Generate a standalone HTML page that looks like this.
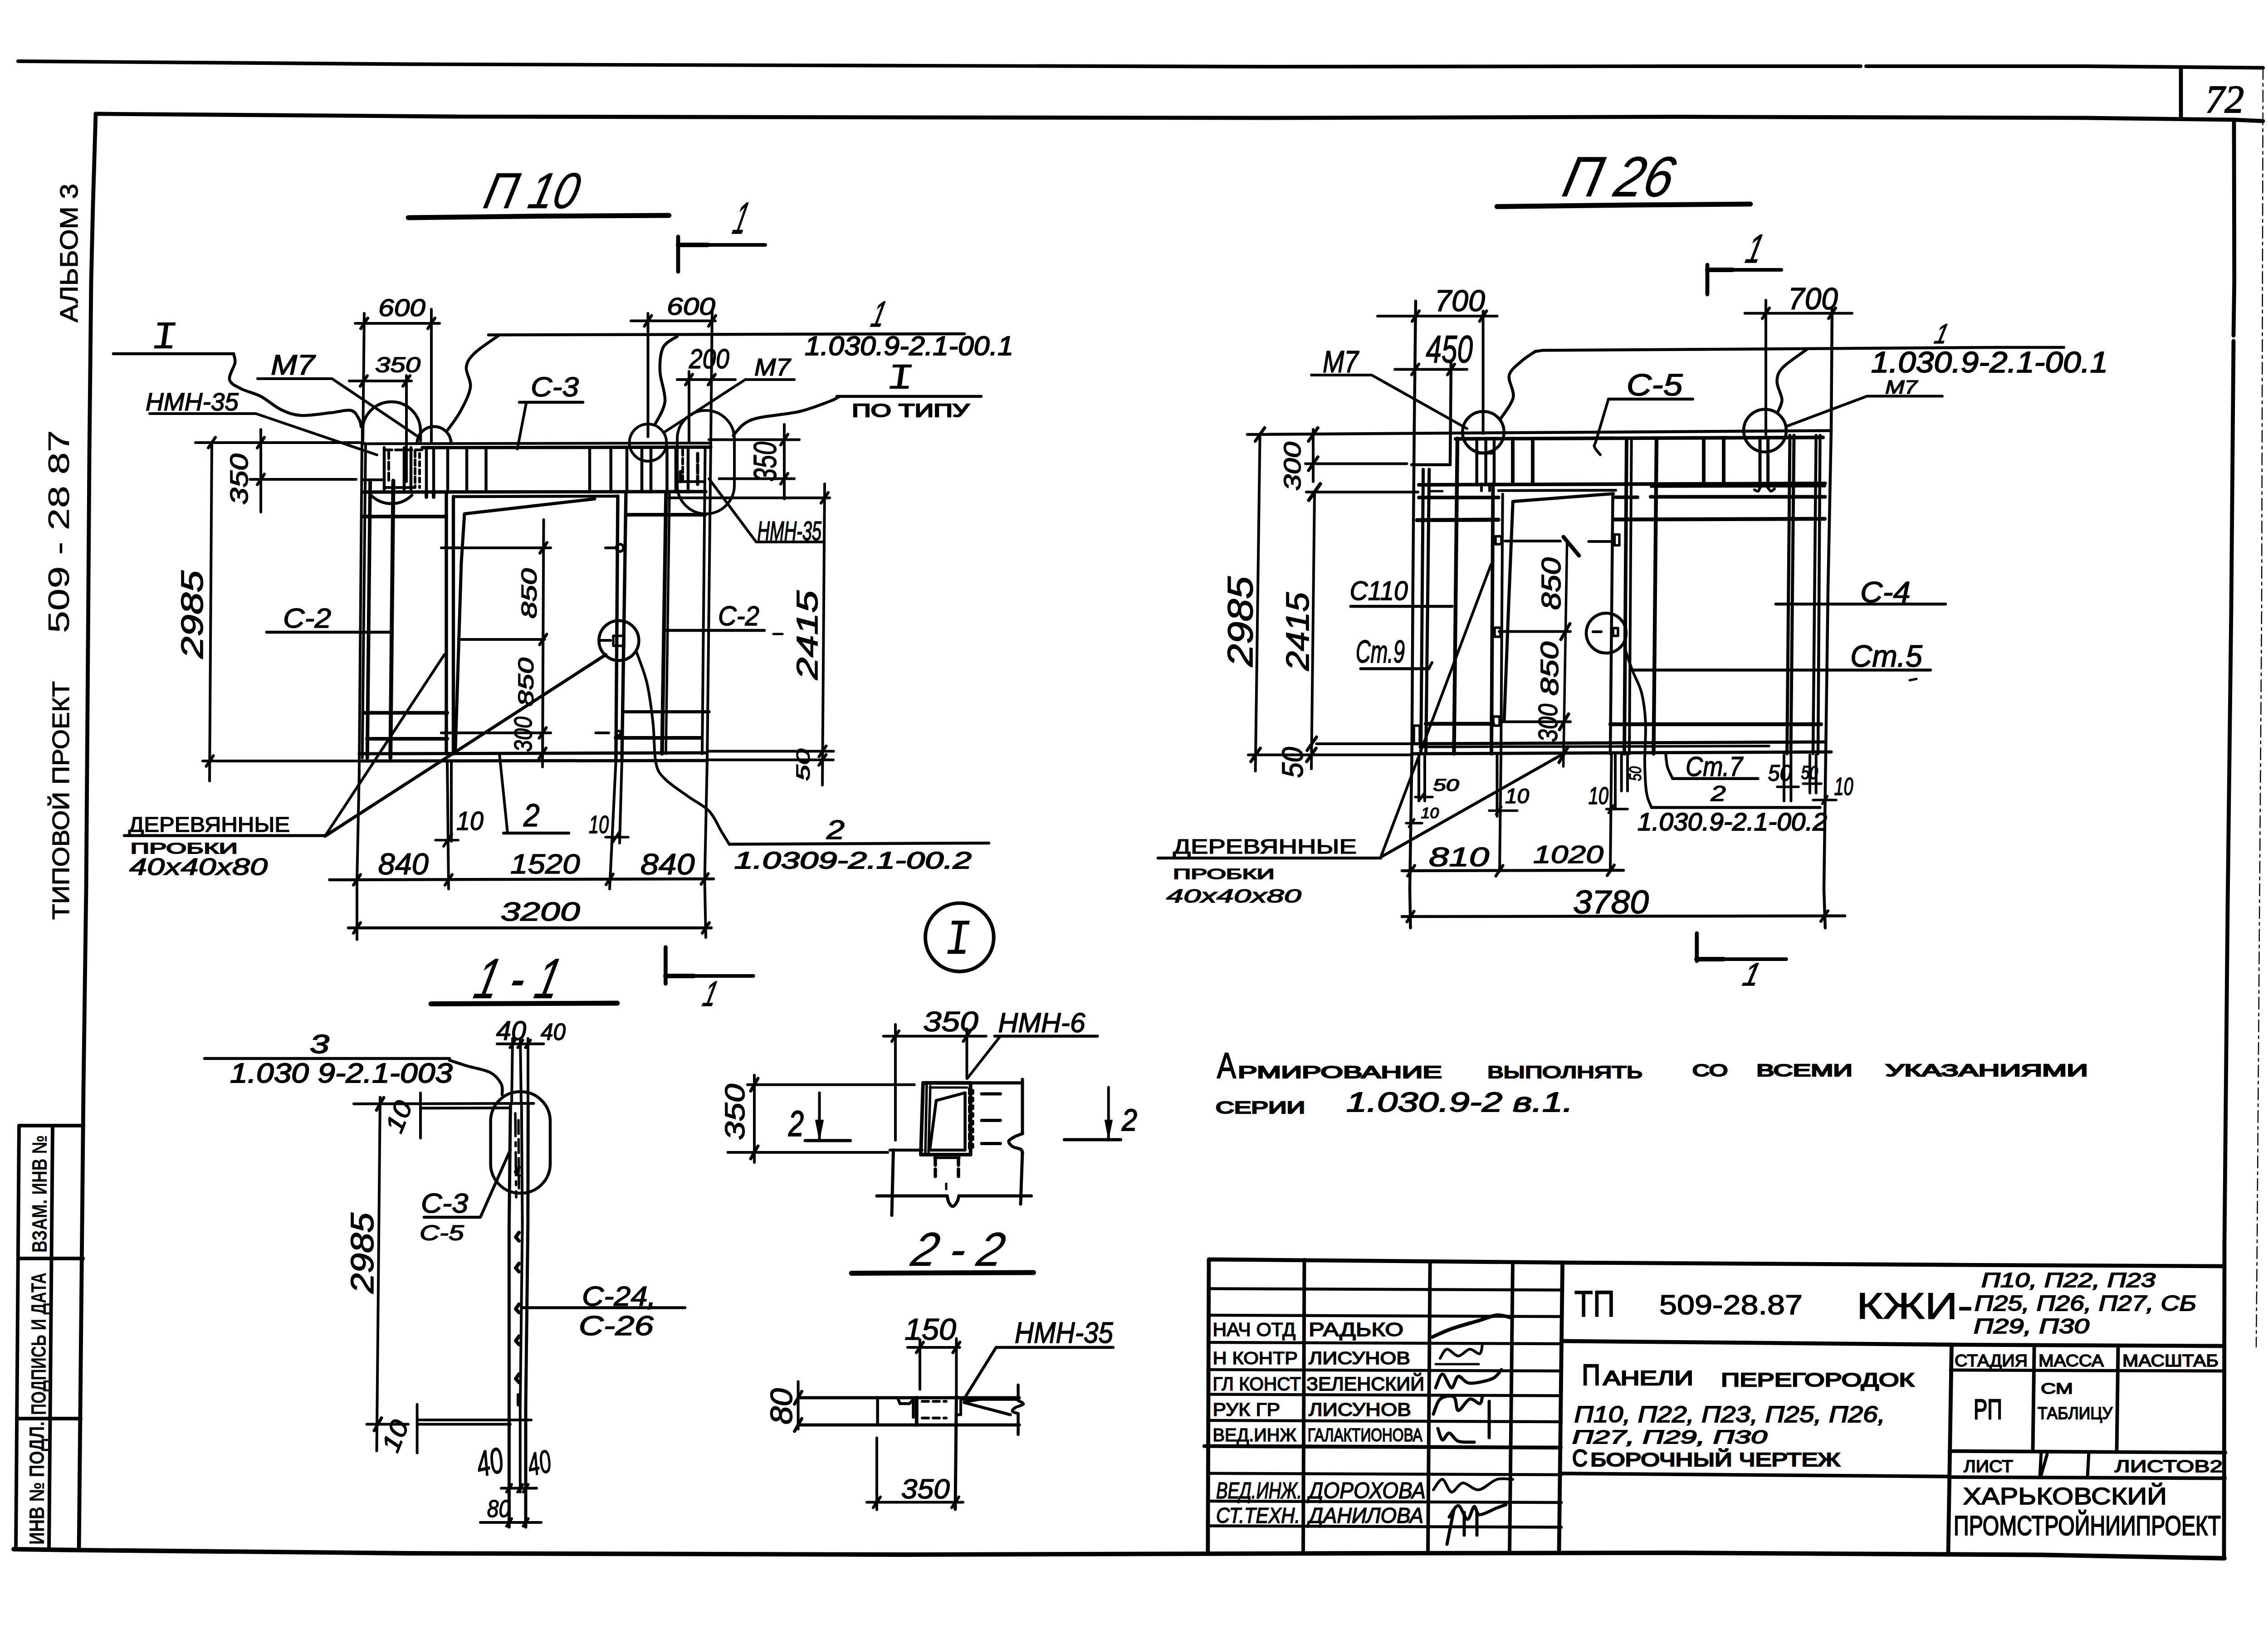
<!DOCTYPE html>
<html lang="ru"><head><meta charset="utf-8"><title>ТП 509-28.87 КЖИ</title>
<style>html,body{margin:0;padding:0;background:#fff}svg{display:block}text{font-family:"Liberation Sans",sans-serif;fill:#000}path,circle,ellipse,rect{fill:none;stroke:#000;stroke-linecap:round;stroke-linejoin:round}</style></head>
<body><svg width="5019" height="3603" viewBox="0 0 5019 3603">
<path d="M40 135L900 141.5L1900 144.5L2800 147L3700 146L4102 146" stroke-width="7.9"/>
<path d="M4114 146L4600 146L4989 149.5" stroke-width="7.9"/>
<path d="M211 251L1000 257L1900 258.7L2800 260L3700 257.5L4600 260L4925 264L4989 267" stroke-width="8.8"/>
<path d="M4808 149L4808 262" stroke-width="8.8"/>
<path d="M4925 264L4925.7 620L4924 740" stroke-width="8.8"/>
<path d="M4924 752L4919 1340L4911 2000L4904 2740L4903 3436" stroke-width="8.8"/>
<path d="M30 3416L174 3418L900 3425L2000 3428L3000 3425L3700 3424L4500 3428.5L4904 3436" stroke-width="9.8"/>
<path d="M211 251L205 450L201 620L197 1000L194.6 1340L190 1960L184 2400L174 3417" stroke-width="8.8"/>
<path d="M4989 149L4986 1340L4976 2740L4974 2970" stroke-width="2.5" stroke-dasharray="26 9 6 9"/>
<text transform="translate(4862 248)" font-size="86.6" textLength="85" lengthAdjust="spacingAndGlyphs" font-style="italic" stroke="#000" stroke-width="2.2" style="font-family:'Liberation Serif',serif">72</text>
<text transform="translate(171 711) rotate(-90)" font-size="55.9" textLength="306" lengthAdjust="spacingAndGlyphs" stroke="#000" stroke-width="1.2">АЛЬБОМ 3</text>
<text transform="translate(152 1396) rotate(-90)" font-size="65.6" textLength="448" lengthAdjust="spacingAndGlyphs" stroke="#000" stroke-width="0.4">509 - 28 87</text>
<text transform="translate(152 2028) rotate(-90)" font-size="51" textLength="526" lengthAdjust="spacingAndGlyphs" stroke="#000" stroke-width="1.3">ТИПОВОЙ ПРОЕКТ</text>
<path d="M184 2482L42 2482L35 3416" stroke-width="7.9"/>
<path d="M116 2482L108 3416" stroke-width="7.9"/>
<path d="M40 2775L183 2775" stroke-width="7.9"/>
<path d="M37 3128L178 3128" stroke-width="7.9"/>
<text transform="translate(103 2762) rotate(-90)" font-size="46.1" textLength="259" lengthAdjust="spacingAndGlyphs" font-weight="bold">ВЗАМ. ИНВ №</text>
<text transform="translate(101 3120) rotate(-90)" font-size="46.1" textLength="314" lengthAdjust="spacingAndGlyphs" font-weight="bold">ПОДПИСЬ И ДАТА</text>
<text transform="translate(97 3406) rotate(-90)" font-size="46.1" textLength="272" lengthAdjust="spacingAndGlyphs" font-weight="bold">ИНВ № ПОДЛ.</text>
<path d="M2662.8 3424L2665 2777L3444 2784L4300 2789L4904 2792" stroke-width="8.8"/>
<path d="M2875.5 2778L2873 3424" stroke-width="7.9"/>
<path d="M3152.7 2781L3148 3424" stroke-width="7.9"/>
<path d="M3335 2783L3328 3424" stroke-width="7.9"/>
<path d="M3444.6 2784L3437 3424" stroke-width="8.8"/>
<path d="M2665 2841.5L3442 2844.5" stroke-width="6.5"/>
<path d="M2665 2900L3442 2903" stroke-width="6.5"/>
<path d="M2665 2960L3442 2963" stroke-width="6.5"/>
<path d="M2665 3020L3442 3023" stroke-width="6.5"/>
<path d="M2665 3074.5L3442 3077.5" stroke-width="6.5"/>
<path d="M2665 3132L3442 3135" stroke-width="6.5"/>
<path d="M2665 3248.8L3442 3251.8" stroke-width="6.5"/>
<path d="M2665 3310L3442 3313" stroke-width="6.5"/>
<path d="M2665 3364.5L3442 3367.5" stroke-width="6.5"/>
<path d="M2655 3188.6L3441 3192" stroke-width="8.4"/>
<path d="M3444 2957L4300 2965L4904 2968" stroke-width="8.8"/>
<path d="M3440 3249L4298 3255.7" stroke-width="7.9"/>
<path d="M4302.5 2965L4295 3426" stroke-width="8.8"/>
<path d="M4300 3021L4904 3023" stroke-width="7"/>
<path d="M4484.7 2967L4481.5 3200" stroke-width="7.9"/>
<path d="M4669.6 2967L4666.5 3201" stroke-width="7.9"/>
<path d="M4298 3199.7L4906 3203" stroke-width="7.9"/>
<path d="M4296 3257L4905 3259.5" stroke-width="7.9"/>
<path d="M4500 3202L4497 3257" stroke-width="7"/>
<path d="M4605 3202L4602 3257" stroke-width="7"/>
<path d="M4513 3207L4500 3252" stroke-width="7"/>
<text transform="translate(2673.5 2946)" font-size="41.9" textLength="182.5" lengthAdjust="spacingAndGlyphs" stroke="#000" stroke-width="1.7">НАЧ ОТД</text>
<text transform="translate(2885 2946)" font-size="41.9" textLength="209" lengthAdjust="spacingAndGlyphs" stroke="#000" stroke-width="1.8">РАДЬКО</text>
<text transform="translate(2673.5 3008)" font-size="39.1" textLength="187.5" lengthAdjust="spacingAndGlyphs" stroke="#000" stroke-width="1.7">Н КОНТР</text>
<text transform="translate(2885 3008)" font-size="39.1" textLength="224" lengthAdjust="spacingAndGlyphs" stroke="#000" stroke-width="1.8">ЛИСУНОВ</text>
<text transform="translate(2673.5 3066)" font-size="41.9" textLength="194.5" lengthAdjust="spacingAndGlyphs" stroke="#000" stroke-width="1.7">ГЛ КОНСТ</text>
<text transform="translate(2880 3066)" font-size="41.9" textLength="260" lengthAdjust="spacingAndGlyphs" stroke="#000" stroke-width="1.8">ЗЕЛЕНСКИЙ</text>
<text transform="translate(2673.5 3122)" font-size="40.9" textLength="148.5" lengthAdjust="spacingAndGlyphs" stroke="#000" stroke-width="1.7">РУК ГР</text>
<text transform="translate(2885 3122)" font-size="40.9" textLength="226" lengthAdjust="spacingAndGlyphs" stroke="#000" stroke-width="1.8">ЛИСУНОВ</text>
<text transform="translate(2673.5 3178)" font-size="40.9" textLength="184.5" lengthAdjust="spacingAndGlyphs" stroke="#000" stroke-width="1.7">ВЕД.ИНЖ</text>
<text transform="translate(2882.7 3178)" font-size="40.9" textLength="253" lengthAdjust="spacingAndGlyphs" stroke="#000" stroke-width="1.8">ГАЛАКТИОНОВА</text>
<text transform="translate(2681 3304)" font-size="50.3" textLength="189" lengthAdjust="spacingAndGlyphs" font-style="italic" stroke="#000" stroke-width="1.6">ВЕД.ИНЖ.</text>
<text transform="translate(2885 3304)" font-size="50.3" textLength="258" lengthAdjust="spacingAndGlyphs" font-style="italic" stroke="#000" stroke-width="1.6">ДОРОХОВА</text>
<text transform="translate(2681 3358)" font-size="47.5" textLength="185" lengthAdjust="spacingAndGlyphs" font-style="italic" stroke="#000" stroke-width="1.6">СТ.ТЕХН.</text>
<text transform="translate(2885 3358)" font-size="47.5" textLength="253" lengthAdjust="spacingAndGlyphs" font-style="italic" stroke="#000" stroke-width="1.6">ДАНИЛОВА</text>
<path d="M3158 2948C3165 2945 3183 2936 3200 2930C3217 2924 3243.3 2917 3260 2912C3276.7 2907 3288.3 2901.2 3300 2900C3311.7 2898.8 3325 2904.2 3330 2905" stroke-width="7.9"/>
<path d="M3175 2995C3177.5 2991.7 3183.3 2975.8 3190 2975C3196.7 2974.2 3206.7 2990 3215 2990C3223.3 2990 3232.2 2975.8 3240 2975C3247.8 2974.2 3257.3 2986.7 3262 2985C3266.7 2983.3 3267 2968.3 3268 2965" stroke-width="6"/>
<path d="M3165 3008L3260 3008" stroke-width="5"/>
<path d="M3165 3060C3167.5 3055 3174.2 3030 3180 3030C3185.8 3030 3194.2 3059.2 3200 3060C3205.8 3060.8 3208.3 3036.7 3215 3035C3221.7 3033.3 3227.5 3049.2 3240 3050C3252.5 3050.8 3278.3 3045 3290 3040C3301.7 3035 3306.7 3023.3 3310 3020" stroke-width="7"/>
<path d="M3160 3118C3162.5 3112.5 3167.5 3091.3 3175 3085C3182.5 3078.7 3198.3 3075.8 3205 3080C3211.7 3084.2 3209.2 3109.2 3215 3110C3220.8 3110.8 3232.2 3087.5 3240 3085C3247.8 3082.5 3257.3 3095.8 3262 3095C3266.7 3094.2 3267 3082.5 3268 3080" stroke-width="7"/>
<path d="M3283 3090L3283 3170" stroke-width="7"/>
<path d="M3170 3150C3171.7 3154.2 3175.8 3173.3 3180 3175C3184.2 3176.7 3189.2 3159.5 3195 3160C3200.8 3160.5 3205.8 3174.7 3215 3178C3224.2 3181.3 3244.2 3179.7 3250 3180" stroke-width="7"/>
<path d="M3160 3285C3163.3 3281.2 3173.3 3261.2 3180 3262C3186.7 3262.8 3192.5 3288.7 3200 3290C3207.5 3291.3 3215 3270.8 3225 3270C3235 3269.2 3247.5 3286.3 3260 3285C3272.5 3283.7 3287.5 3265.8 3300 3262C3312.5 3258.2 3329.2 3262 3335 3262" stroke-width="6"/>
<path d="M3195 3345C3198.3 3340.8 3208.3 3319.2 3215 3320C3221.7 3320.8 3229.2 3349.7 3235 3350C3240.8 3350.3 3245.5 3323.7 3250 3322C3254.5 3320.3 3253.7 3339.5 3262 3340C3270.3 3340.5 3290.3 3328.7 3300 3325C3309.7 3321.3 3316.7 3319.2 3320 3318" stroke-width="7"/>
<path d="M3205 3330L3190 3405" stroke-width="7"/>
<path d="M3228 3335L3228 3385" stroke-width="7"/>
<path d="M3256 3335L3256 3385" stroke-width="7"/>
<text transform="translate(3470.5 2903)" font-size="81" textLength="90" lengthAdjust="spacingAndGlyphs" stroke="#000" stroke-width="1.6">ТП</text>
<text transform="translate(3658 2898)" font-size="61.5" textLength="316" lengthAdjust="spacingAndGlyphs" stroke="#000" stroke-width="1.6">509-28.87</text>
<text transform="translate(4093 2908)" font-size="81.7" textLength="256" lengthAdjust="spacingAndGlyphs" stroke="#000" stroke-width="1.6">КЖИ-</text>
<text transform="translate(4368 2838)" font-size="44.7" textLength="384" lengthAdjust="spacingAndGlyphs" font-style="italic" stroke="#000" stroke-width="2">П10, П22, П23</text>
<text transform="translate(4353 2890)" font-size="47.5" textLength="489" lengthAdjust="spacingAndGlyphs" font-style="italic" stroke="#000" stroke-width="2">П25, П26, П27, СБ</text>
<text transform="translate(4351 2940)" font-size="46.1" textLength="255" lengthAdjust="spacingAndGlyphs" font-style="italic" stroke="#000" stroke-width="2">П29, П30</text>
<text transform="translate(3487.6 3054)" font-size="64.2" textLength="40.4" lengthAdjust="spacingAndGlyphs" stroke="#000" stroke-width="2.7">П</text>
<text transform="translate(3534 3054)" font-size="44.7" textLength="199" lengthAdjust="spacingAndGlyphs" stroke="#000" stroke-width="2.7">АНЕЛИ</text>
<text transform="translate(3794 3057)" font-size="43.3" textLength="426" lengthAdjust="spacingAndGlyphs" stroke="#000" stroke-width="2.7">ПЕРЕГОРОДОК</text>
<text transform="translate(3470.5 3136)" font-size="50.3" textLength="685.5" lengthAdjust="spacingAndGlyphs" font-style="italic" stroke="#000" stroke-width="2">П10, П22, П23, П25, П26,</text>
<text transform="translate(3466 3183)" font-size="41.9" textLength="430" lengthAdjust="spacingAndGlyphs" font-style="italic" stroke="#000" stroke-width="2">П27, П29, П30</text>
<text transform="translate(3466 3233)" font-size="51.7" textLength="34" lengthAdjust="spacingAndGlyphs" stroke="#000" stroke-width="2.7">С</text>
<text transform="translate(3506 3233)" font-size="41.9" textLength="551" lengthAdjust="spacingAndGlyphs" stroke="#000" stroke-width="2.7">БОРОЧНЫЙ ЧЕРТЕЖ</text>
<text transform="translate(4309 3012.5)" font-size="37" textLength="161" lengthAdjust="spacingAndGlyphs" stroke="#000" stroke-width="1.8">СТАДИЯ</text>
<text transform="translate(4494 3012.5)" font-size="37" textLength="144" lengthAdjust="spacingAndGlyphs" stroke="#000" stroke-width="1.8">МАССА</text>
<text transform="translate(4679 3012.5)" font-size="37" textLength="212" lengthAdjust="spacingAndGlyphs" stroke="#000" stroke-width="1.8">МАСШТАБ</text>
<text transform="translate(4351 3129)" font-size="62.8" textLength="63" lengthAdjust="spacingAndGlyphs" stroke="#000" stroke-width="2.5">РП</text>
<text transform="translate(4499 3073)" font-size="33.5" textLength="71" lengthAdjust="spacingAndGlyphs" stroke="#000" stroke-width="1.8">СМ</text>
<text transform="translate(4492 3129)" font-size="37" textLength="165" lengthAdjust="spacingAndGlyphs" stroke="#000" stroke-width="1.8">ТАБЛИЦУ</text>
<text transform="translate(4329 3246)" font-size="37.7" textLength="109" lengthAdjust="spacingAndGlyphs" stroke="#000" stroke-width="1.8">ЛИСТ</text>
<text transform="translate(4662 3246)" font-size="37.7" textLength="238" lengthAdjust="spacingAndGlyphs" stroke="#000" stroke-width="1.8">ЛИСТОВ2</text>
<text transform="translate(4327.5 3317)" font-size="51.7" textLength="449.5" lengthAdjust="spacingAndGlyphs" stroke="#000" stroke-width="1.8">ХАРЬКОВСКИЙ</text>
<text transform="translate(4307 3385)" font-size="61.5" textLength="589" lengthAdjust="spacingAndGlyphs" stroke="#000" stroke-width="2.2">ПРОМСТРОЙНИИПРОЕКТ</text>
<text transform="translate(2683 2377)" font-size="79.6" textLength="42" lengthAdjust="spacingAndGlyphs" stroke="#000" stroke-width="2.2">А</text>
<text transform="translate(2729 2377)" font-size="37.7" textLength="450" lengthAdjust="spacingAndGlyphs" stroke="#000" stroke-width="2.7">РМИРОВАНИЕ</text>
<text transform="translate(3279 2377)" font-size="37.7" textLength="342" lengthAdjust="spacingAndGlyphs" stroke="#000" stroke-width="2.7">ВЫПОЛНЯТЬ</text>
<text transform="translate(3731 2373)" font-size="36.3" textLength="78" lengthAdjust="spacingAndGlyphs" stroke="#000" stroke-width="2.7">СО</text>
<text transform="translate(3872 2373)" font-size="36.3" textLength="212" lengthAdjust="spacingAndGlyphs" stroke="#000" stroke-width="2.7">ВСЕМИ</text>
<text transform="translate(4157 2373)" font-size="36.3" textLength="446" lengthAdjust="spacingAndGlyphs" stroke="#000" stroke-width="2.7">УКАЗАНИЯМИ</text>
<text transform="translate(2680 2455)" font-size="36.3" textLength="197" lengthAdjust="spacingAndGlyphs" stroke="#000" stroke-width="2.7">СЕРИИ</text>
<text transform="translate(2968 2451)" font-size="61.5" textLength="500" lengthAdjust="spacingAndGlyphs" font-style="italic" stroke="#000" stroke-width="2">1.030.9-2  в.1.</text>
<text transform="translate(1062 459) skewX(-13)" font-size="111.7" textLength="206" lengthAdjust="spacingAndGlyphs" font-style="italic" stroke="#000" stroke-width="0.6">П 10</text>
<path d="M900 480L1200 476.5L1475 475" stroke-width="10.8"/>
<path d="M1495 522L1495 599" stroke-width="8.8"/>
<path d="M1495 540L1687 540" stroke-width="7.9"/>
<path d="M1495 540L1560 540" stroke-width="9.8"/>
<text transform="translate(1612 515) skewX(-14)" font-size="99.2" textLength="28" lengthAdjust="spacingAndGlyphs" font-style="italic" stroke="#000" stroke-width="1.6">1</text>
<path d="M1467.4 2088.7L1467.4 2169" stroke-width="8.8"/>
<path d="M1467.4 2152L1660.6 2152" stroke-width="7.9"/>
<path d="M1467 2152L1530 2152" stroke-width="9.8"/>
<text transform="translate(1546 2217.6) skewX(-14)" font-size="78.2" textLength="28" lengthAdjust="spacingAndGlyphs" font-style="italic" stroke="#000" stroke-width="1.6">1</text>
<path d="M798 976L791.8 1700" stroke-width="6"/>
<path d="M1570 686L1567 976" stroke-width="6"/>
<path d="M1567 976L1559 1678" stroke-width="6"/>
<path d="M1559 1678L1553.5 1940" stroke-width="6"/>
<path d="M1553.5 1940L1556 2067" stroke-width="6"/>
<path d="M798 978.5L1567 977" stroke-width="6"/>
<path d="M931 987L1567 986" stroke-width="7.4"/>
<path d="M801 1085L1556 1084" stroke-width="7.4"/>
<path d="M1000 1095L1362 1094" stroke-width="6.5"/>
<path d="M847 987L847 1085" stroke-width="6.5"/>
<path d="M891 987L891 1085" stroke-width="6.5"/>
<path d="M906 987L906 1085" stroke-width="6.5"/>
<path d="M940 987L940 1085" stroke-width="6.5"/>
<path d="M956 987L956 1085" stroke-width="6.5"/>
<path d="M987 987L987 1085" stroke-width="6.5"/>
<path d="M1029 987L1029 1085" stroke-width="6.5"/>
<path d="M1071.5 987L1071.5 1085" stroke-width="6.5"/>
<path d="M1300 987L1300 1085" stroke-width="6.5"/>
<path d="M1346.7 987L1346.7 1085" stroke-width="6.5"/>
<path d="M1382 987L1382 1085" stroke-width="6.5"/>
<path d="M1415 987L1415 1085" stroke-width="6.5"/>
<path d="M1435 987L1435 1085" stroke-width="6.5"/>
<path d="M1470.5 987L1470.5 1085" stroke-width="6.5"/>
<path d="M1490 987L1490 1085" stroke-width="6.5"/>
<path d="M1517 987L1517 1085" stroke-width="6.5"/>
<path d="M857 995L857 1060" stroke-width="6" stroke-dasharray="16 8"/>
<path d="M915 995L915 1075" stroke-width="6" stroke-dasharray="12 7"/>
<path d="M925 1000L925 1075" stroke-width="6" stroke-dasharray="9 9"/>
<path d="M798 1058L847 1058" stroke-width="6"/>
<path d="M847 1075L915 1075" stroke-width="6"/>
<path d="M850 992L930 992" stroke-width="6" stroke-dasharray="14 8"/>
<path d="M940 1085L940 1096" stroke-width="7.9"/>
<path d="M956 1085L956 1096" stroke-width="7.9"/>
<path d="M806 978L798.7 1671" stroke-width="6"/>
<path d="M816.1 1060L809.7 1671" stroke-width="7.9"/>
<path d="M867.1 1060L860.7 1671" stroke-width="8.8"/>
<path d="M801 1139L984 1139" stroke-width="7.9"/>
<path d="M803 1571.7L986 1571.7" stroke-width="7.9"/>
<path d="M809 1629L986 1629" stroke-width="7.9"/>
<path d="M792 1662L1559 1660" stroke-width="7"/>
<path d="M792 1678L1559 1677" stroke-width="7"/>
<path d="M984 1085L984 1662" stroke-width="7.4"/>
<path d="M999.5 1095L999.5 1662" stroke-width="7.4"/>
<path d="M1362 1094L1357.8 1678" stroke-width="7.4"/>
<path d="M1380 1085L1371 1678" stroke-width="7.4"/>
<path d="M1311 1100L1024 1133L1017 1240L1004 1651" stroke-width="7"/>
<path d="M1198.5 1146L1196 1691" stroke-width="6"/>
<path d="M973 1208L1214 1208" stroke-width="6"/>
<path d="M1010.6 1410L1200.7 1410" stroke-width="6"/>
<path d="M973 1616L1214 1616" stroke-width="6"/>
<path d="M1190.2 1219.6L1205.8 1196.4" stroke-width="6.5"/>
<path d="M1189.7 1421.6L1205.3 1398.4" stroke-width="6.5"/>
<path d="M1188.7 1627.6L1204.3 1604.4" stroke-width="6.5"/>
<path d="M1188.2 1672.6L1203.8 1649.4" stroke-width="6.5"/>
<circle cx="1366.6" cy="1208" r="8" stroke-width="6"/>
<path d="M1335 1208L1358 1208" stroke-width="6"/>
<text transform="translate(1183 1364) rotate(-90)" font-size="48.9" textLength="111" lengthAdjust="spacingAndGlyphs" font-style="italic" stroke="#000" stroke-width="1.6">850</text>
<text transform="translate(1176 1558) rotate(-90)" font-size="48.9" textLength="108" lengthAdjust="spacingAndGlyphs" font-style="italic" stroke="#000" stroke-width="1.6">850</text>
<text transform="translate(1172 1658) rotate(-90)" font-size="55.9" textLength="78" lengthAdjust="spacingAndGlyphs" font-style="italic" stroke="#000" stroke-width="1.6">300</text>
<path d="M1468.5 1085L1459.5 1662" stroke-width="8.4"/>
<path d="M1476 1085L1468 1662" stroke-width="5.5"/>
<path d="M1554.6 986L1548 1662" stroke-width="6"/>
<path d="M1380 1135L1555 1135" stroke-width="7.9"/>
<path d="M1375.5 1569.5L1563 1569.5" stroke-width="7"/>
<path d="M1357 1627L1546 1627" stroke-width="7.9"/>
<path d="M1358 1612L1368 1612L1368 1621L1358 1621Z" stroke-width="5.5"/>
<path d="M1313.5 1616L1342 1616" stroke-width="6"/>
<path d="M1505 992L1505 1060" stroke-width="6" stroke-dasharray="12 7"/>
<path d="M1538 1000L1538 1075" stroke-width="7" stroke-dasharray="18 7"/>
<path d="M1490 1062L1554 1062" stroke-width="6"/>
<path d="M1500 1040L1500 1062" stroke-width="7"/>
<path d="M799 976L799 950A64 64 0 0 1 927 950L927 972" stroke-width="6.5"/>
<path d="M818 1092A64 64 0 0 0 908 1092" stroke-width="6.5"/>
<path d="M919.5 978A37.5 37.5 0 0 1 994.5 978" stroke-width="6.5"/>
<circle cx="1428.5" cy="976" r="41" stroke-width="6"/>
<rect x="1493" y="905" width="126" height="228" rx="63" ry="63" stroke-width="6"/>
<path d="M467 976L462 1722" stroke-width="6"/>
<path d="M431 976L800 976" stroke-width="6"/>
<path d="M447 1678L796 1678" stroke-width="6"/>
<path d="M459.2 987.6L474.8 964.4" stroke-width="6.5"/>
<path d="M454.7 1689.6L470.3 1666.4" stroke-width="6.5"/>
<text transform="translate(447 1452) rotate(-90)" font-size="68.4" textLength="194" lengthAdjust="spacingAndGlyphs" font-style="italic" stroke="#000" stroke-width="1.6">2985</text>
<path d="M575 947L575 1129" stroke-width="6"/>
<path d="M551 1057L785 1057" stroke-width="6"/>
<path d="M567.2 987.6L582.8 964.4" stroke-width="6.5"/>
<path d="M567.2 1068.6L582.8 1045.4" stroke-width="6.5"/>
<text transform="translate(546 1113) rotate(-90)" font-size="55.9" textLength="113" lengthAdjust="spacingAndGlyphs" font-style="italic" stroke="#000" stroke-width="1.6">350</text>
<path d="M783 713L969 713" stroke-width="6"/>
<path d="M803 691L800 976" stroke-width="6"/>
<path d="M951 682L951 974" stroke-width="6"/>
<path d="M795.2 724.6L810.8 701.4" stroke-width="6.5"/>
<path d="M943.2 724.6L958.8 701.4" stroke-width="6.5"/>
<text transform="translate(834 697)" font-size="54.5" textLength="104" lengthAdjust="spacingAndGlyphs" font-style="italic" stroke="#000" stroke-width="1.6">600</text>
<path d="M770 840L907 840" stroke-width="6"/>
<path d="M896 828L896 1062" stroke-width="6"/>
<path d="M794.2 851.6L809.8 828.4" stroke-width="6.5"/>
<path d="M888.2 851.6L903.8 828.4" stroke-width="6.5"/>
<text transform="translate(827 821)" font-size="48.9" textLength="100" lengthAdjust="spacingAndGlyphs" font-style="italic" stroke="#000" stroke-width="1.6">350</text>
<text transform="translate(330 768) skewX(-8)" font-size="86.4" textLength="59" lengthAdjust="spacingAndGlyphs" stroke="#000" stroke-width="0.3" style="font-family:'Liberation Mono',serif">I</text>
<path d="M250 780L515 780" stroke-width="6.5"/>
<path d="M515 780C515.5 783.3 519.5 790.5 518 800C516.5 809.5 503.8 827.5 506 837C508.2 846.5 519.5 850.8 531 857C542.5 863.2 560.3 866.3 575 874C589.7 881.7 604.3 896 619 903C633.7 910 644.5 914.8 663 916C681.5 917.2 711.5 911.8 730 910C748.5 908.2 763.7 902.5 774 905C784.3 907.5 788.3 919 792 925C795.7 931 795.3 938.3 796 941" stroke-width="6.5"/>
<text transform="translate(597 826)" font-size="62.8" textLength="97" lengthAdjust="spacingAndGlyphs" font-style="italic" stroke="#000" stroke-width="1.6">М7</text>
<path d="M568 835L732 835L922 963" stroke-width="6"/>
<text transform="translate(321 905)" font-size="55.9" textLength="205" lengthAdjust="spacingAndGlyphs" font-style="italic" stroke="#000" stroke-width="1.6">НМН-35</text>
<path d="M330 912L564 912L831 1003" stroke-width="6"/>
<path d="M1077 738.5L2126 736" stroke-width="6.5"/>
<path d="M1099 740C1090.2 746.5 1057.8 767.3 1046 779C1034.2 790.7 1029.5 797.5 1028 810C1026.5 822.5 1039.2 837.8 1037 854C1034.8 870.2 1023.8 890.7 1015 907C1006.2 923.3 989.2 944.5 984 952" stroke-width="6.5"/>
<text transform="translate(1170 874)" font-size="61.5" textLength="106" lengthAdjust="spacingAndGlyphs" font-style="italic" stroke="#000" stroke-width="1.6">С-3</text>
<path d="M1145 887L1285 887" stroke-width="6.5"/>
<path d="M1160.5 887L1140.5 990" stroke-width="6"/>
<path d="M1391 707.6L1577 707.6" stroke-width="6"/>
<path d="M1428.5 691L1428.5 963" stroke-width="6"/>
<path d="M1420.7 719.2L1436.3 696" stroke-width="6.5"/>
<path d="M1562.2 719.2L1577.8 696" stroke-width="6.5"/>
<text transform="translate(1470 694)" font-size="54.5" textLength="107" lengthAdjust="spacingAndGlyphs" font-style="italic" stroke="#000" stroke-width="1.6">600</text>
<path d="M1493 837L1621 837" stroke-width="6"/>
<path d="M1519 819L1519 974" stroke-width="6"/>
<path d="M1511.2 848.6L1526.8 825.4" stroke-width="6.5"/>
<path d="M1561.2 848.6L1576.8 825.4" stroke-width="6.5"/>
<text transform="translate(1519 812)" font-size="61.5" textLength="89" lengthAdjust="spacingAndGlyphs" font-style="italic" stroke="#000" stroke-width="1.6">200</text>
<text transform="translate(1663 828)" font-size="53.1" textLength="79.5" lengthAdjust="spacingAndGlyphs" font-style="italic" stroke="#000" stroke-width="1.6">М7</text>
<path d="M1751 837L1643 837L1466 952" stroke-width="6"/>
<path d="M1444 936C1447.7 927.5 1464.2 904.5 1466 885C1467.8 865.5 1455.7 838.8 1455 819C1454.3 799.2 1455.7 778.9 1462 766C1468.3 753.1 1487.8 745.7 1493 741.6" stroke-width="6.5"/>
<path d="M1616.5 960.5C1620.4 956.2 1630.4 941.6 1640 935C1649.6 928.4 1653.7 925.6 1674 921C1694.3 916.4 1736.2 913.5 1762 907.5C1787.8 901.5 1814.2 890.6 1829 885C1843.8 879.4 1847.3 875.8 1851 874" stroke-width="6.5"/>
<path d="M1845 874L2163 874" stroke-width="6.5"/>
<text transform="translate(1917 719.5) skewX(-14)" font-size="80.3" textLength="28" lengthAdjust="spacingAndGlyphs" font-style="italic" stroke="#000" stroke-width="1.6">1</text>
<text transform="translate(1774 783)" font-size="60.1" textLength="460" lengthAdjust="spacingAndGlyphs" font-style="italic" stroke="#000" stroke-width="2">1.030.9-2.1-00.1</text>
<text transform="translate(1951 856.6) skewX(-8)" font-size="80.5" textLength="62" lengthAdjust="spacingAndGlyphs" stroke="#000" stroke-width="0.3" style="font-family:'Liberation Mono',serif">I</text>
<text transform="translate(1878 918.5)" font-size="39.8" textLength="259" lengthAdjust="spacingAndGlyphs" stroke="#000" stroke-width="2.5">ПО ТИПУ</text>
<path d="M1729 936L1729 1100" stroke-width="6"/>
<path d="M1563 969.4L1762 969.4" stroke-width="6"/>
<path d="M1585.5 1055.6L1751 1055.6" stroke-width="6"/>
<path d="M1721.2 981L1736.8 957.8" stroke-width="6.5"/>
<path d="M1721.2 1067.2L1736.8 1044" stroke-width="6.5"/>
<text transform="translate(1711 1062) rotate(-90)" font-size="71.2" textLength="88" lengthAdjust="spacingAndGlyphs" font-style="italic" stroke="#000" stroke-width="1.6">350</text>
<path d="M1475 1097.7L1829 1097.7" stroke-width="6"/>
<path d="M1818 1067L1813 1731" stroke-width="6"/>
<path d="M1810.2 1109.3L1825.8 1086.1" stroke-width="6.5"/>
<path d="M1805.7 1668.2L1821.3 1645" stroke-width="6.5"/>
<path d="M1805.5 1687.2L1821.1 1664" stroke-width="6.5"/>
<text transform="translate(1802 1498.7) rotate(-90)" font-size="64.2" textLength="196.7" lengthAdjust="spacingAndGlyphs" font-style="italic" stroke="#000" stroke-width="1.6">2415</text>
<path d="M1563 1656.6L1837.6 1656.6" stroke-width="6"/>
<path d="M1563 1675.6L1837 1675.6" stroke-width="6"/>
<text transform="translate(1785 1722) rotate(-90)" font-size="43.3" textLength="71" lengthAdjust="spacingAndGlyphs" font-style="italic" stroke="#000" stroke-width="1.6">50</text>
<text transform="translate(1669.6 1190.5)" font-size="58.7" textLength="141.4" lengthAdjust="spacingAndGlyphs" font-style="italic" stroke="#000" stroke-width="1.6">НМН-35</text>
<path d="M1813 1195L1667 1195L1563 1055.6" stroke-width="6"/>
<text transform="translate(624 1383.7)" font-size="61.7" textLength="106" lengthAdjust="spacingAndGlyphs" font-style="italic" stroke="#000" stroke-width="1.6">С-2</text>
<path d="M588 1394L862.5 1394" stroke-width="6.5"/>
<text transform="translate(1583 1379)" font-size="61.5" textLength="91" lengthAdjust="spacingAndGlyphs" font-style="italic" stroke="#000" stroke-width="1.6">С-2</text>
<path d="M1468 1390L1685 1390" stroke-width="6.5"/>
<path d="M1705 1398L1725 1398" stroke-width="5"/>
<circle cx="1364.4" cy="1412.5" r="44" stroke-width="6.5"/>
<path d="M1352 1402L1376 1402L1376 1424L1352 1424Z" stroke-width="5.5"/>
<path d="M1322 1412L1346 1412" stroke-width="6"/>
<path d="M1335.6 1443.5L716.5 1843.7" stroke-width="7"/>
<path d="M716.5 1843.7L979.6 1443.5" stroke-width="6"/>
<path d="M1402 1434.6C1406 1446.3 1419.7 1478.4 1426 1505C1432.3 1531.6 1436.3 1564.5 1439.6 1594C1442.9 1623.5 1441.6 1661.4 1446 1682C1450.4 1702.6 1453.8 1705 1466 1717.6C1478.2 1730.2 1502.8 1745.7 1519 1757.5C1535.2 1769.3 1551.6 1775.9 1563.4 1788.4C1575.2 1800.9 1582.6 1820.4 1590 1832.6C1597.4 1844.8 1604.7 1856.6 1607.6 1861.4" stroke-width="6"/>
<path d="M1607.6 1861.4L2180 1859" stroke-width="6.5"/>
<text transform="translate(1822 1850)" font-size="58.7" textLength="40" lengthAdjust="spacingAndGlyphs" font-style="italic" stroke="#000" stroke-width="1.6">2</text>
<text transform="translate(1618.7 1914.5)" font-size="52.4" textLength="523.3" lengthAdjust="spacingAndGlyphs" font-style="italic" stroke="#000" stroke-width="2">1.0309-2.1-00.2</text>
<text transform="translate(283 1834)" font-size="46.1" textLength="356" lengthAdjust="spacingAndGlyphs" stroke="#000" stroke-width="1.6">ДЕРЕВЯННЫЕ</text>
<path d="M274 1842.4L716.5 1842.4" stroke-width="6.5"/>
<text transform="translate(287.5 1882)" font-size="33.5" textLength="236.5" lengthAdjust="spacingAndGlyphs" stroke="#000" stroke-width="2">ПРОБКИ</text>
<text transform="translate(285 1929)" font-size="51.7" textLength="305" lengthAdjust="spacingAndGlyphs" font-style="italic" stroke="#000" stroke-width="1.6">40х40х80</text>
<text transform="translate(1154 1821.6)" font-size="71.1" textLength="35.7" lengthAdjust="spacingAndGlyphs" font-style="italic" stroke="#000" stroke-width="1.6">2</text>
<path d="M1110 1837L1253.8 1837" stroke-width="6.5"/>
<path d="M1119 1837L1101 1662" stroke-width="6"/>
<text transform="translate(1006 1830)" font-size="58.1" textLength="59.8" lengthAdjust="spacingAndGlyphs" font-style="italic" stroke="#000" stroke-width="1.6">10</text>
<path d="M978.1 1865.9L995.9 1839.3" stroke-width="6"/>
<text transform="translate(1298 1837)" font-size="55.9" textLength="44" lengthAdjust="spacingAndGlyphs" font-style="italic" stroke="#000" stroke-width="1.6">10</text>
<path d="M1349.1 1859.3L1366.9 1832.7" stroke-width="6"/>
<path d="M960 1852.6L1010 1852.6" stroke-width="5.5"/>
<path d="M1335 1846L1385 1846" stroke-width="5.5"/>
<path d="M986 1678L989 1960" stroke-width="6"/>
<path d="M995 1678L995 1855" stroke-width="6"/>
<path d="M1357.8 1678L1344 1960" stroke-width="6"/>
<path d="M1371 1678L1366 1859" stroke-width="6"/>
<path d="M792 1700L787 1940" stroke-width="6"/>
<path d="M787 1940L787 2071.6" stroke-width="6"/>
<path d="M726.5 1940L1573 1938" stroke-width="6.5"/>
<path d="M779.2 1951.6L794.8 1928.4" stroke-width="6.5"/>
<path d="M981.2 1951.6L996.8 1928.4" stroke-width="6.5"/>
<path d="M1336.2 1950.6L1351.8 1927.4" stroke-width="6.5"/>
<path d="M1545.7 1949.6L1561.3 1926.4" stroke-width="6.5"/>
<text transform="translate(833.5 1928)" font-size="67" textLength="111.5" lengthAdjust="spacingAndGlyphs" font-style="italic" stroke="#000" stroke-width="1.6">840</text>
<text transform="translate(1125 1926)" font-size="61.5" textLength="153.7" lengthAdjust="spacingAndGlyphs" font-style="italic" stroke="#000" stroke-width="1.6">1520</text>
<text transform="translate(1412 1928)" font-size="64.2" textLength="119.6" lengthAdjust="spacingAndGlyphs" font-style="italic" stroke="#000" stroke-width="1.6">840</text>
<path d="M768 2046L1568 2046" stroke-width="6.5"/>
<path d="M779.2 2057.6L794.8 2034.4" stroke-width="6.5"/>
<path d="M1548.2 2057.6L1563.8 2034.4" stroke-width="6.5"/>
<text transform="translate(1103.5 2030)" font-size="57.3" textLength="175.2" lengthAdjust="spacingAndGlyphs" font-style="italic" stroke="#000" stroke-width="1.6">3200</text>
<text transform="translate(3440 433) skewX(-13)" font-size="125.7" textLength="240" lengthAdjust="spacingAndGlyphs" font-style="italic" stroke="#000" stroke-width="0.6">П 26</text>
<path d="M3300 455.5L3600 452L3859 450" stroke-width="10.8"/>
<path d="M3764 584L3764 649" stroke-width="8.8"/>
<path d="M3764 595L3927 595" stroke-width="7.9"/>
<path d="M3764 595L3820 595" stroke-width="9.8"/>
<text transform="translate(3845 579) skewX(-14)" font-size="89.4" textLength="33" lengthAdjust="spacingAndGlyphs" font-style="italic" stroke="#000" stroke-width="1.6">1</text>
<path d="M3740.8 2058L3740.8 2119" stroke-width="8.8"/>
<path d="M3740 2115L3937.8 2115" stroke-width="7.9"/>
<path d="M3740 2115L3800 2115" stroke-width="9.8"/>
<text transform="translate(3839 2172.7) skewX(-14)" font-size="71.4" textLength="34" lengthAdjust="spacingAndGlyphs" font-style="italic" stroke="#000" stroke-width="1.6">1</text>
<path d="M3037 697L3300.5 697" stroke-width="6"/>
<path d="M3121 664L3117.7 957L3114.8 1300L3112.6 1665L3108 1960L3109.5 2046" stroke-width="6.5"/>
<path d="M3269.6 686L3269.6 956" stroke-width="6"/>
<path d="M3113.2 708.6L3128.8 685.4" stroke-width="6.5"/>
<path d="M3261.8 708.6L3277.4 685.4" stroke-width="6.5"/>
<text transform="translate(3163 686)" font-size="67" textLength="111" lengthAdjust="spacingAndGlyphs" font-style="italic" stroke="#000" stroke-width="1.6">700</text>
<path d="M3075 814.6L3234 814.6" stroke-width="6"/>
<path d="M3199 797L3197 1024.7" stroke-width="6.5"/>
<path d="M3112 1024.7L3197 1024.7" stroke-width="6.5"/>
<path d="M3112.2 826.2L3127.8 803" stroke-width="6.5"/>
<path d="M3191.2 826.2L3206.8 803" stroke-width="6.5"/>
<text transform="translate(3143.5 799)" font-size="85.2" textLength="103.5" lengthAdjust="spacingAndGlyphs" font-style="italic" stroke="#000" stroke-width="1.6">450</text>
<text transform="translate(2916 821)" font-size="67.6" textLength="79" lengthAdjust="spacingAndGlyphs" font-style="italic" stroke="#000" stroke-width="1.6">М7</text>
<path d="M2891 827L3024 827L3234 945" stroke-width="6"/>
<circle cx="3270" cy="953" r="45.8" stroke-width="6.5"/>
<path d="M3307 925C3311.8 916.9 3332.7 892.7 3336 876.5C3339.3 860.3 3324.1 841.2 3327 828C3329.9 814.8 3344 805.8 3353.6 797C3363.2 788.2 3379.4 778.7 3384.6 775" stroke-width="6.5"/>
<path d="M3384.6 775L3400 772.6L4400 766L4549.7 766" stroke-width="6.5"/>
<path d="M2750 958L4035 949.5" stroke-width="6.5"/>
<path d="M3209 967.7L4019 964.5" stroke-width="7.9"/>
<path d="M3128 1069L4023.6 1066" stroke-width="7.9"/>
<path d="M3303.5 1081.8L3562 1081" stroke-width="6"/>
<path d="M3640 1073L4023 1072" stroke-width="5.5"/>
<path d="M3128 1097L3303.5 1097" stroke-width="7.9"/>
<path d="M3124 1146.8L3303.5 1146" stroke-width="8.8"/>
<path d="M3557 1096.4L3610 1096.4" stroke-width="7.9"/>
<path d="M3639 1095.5L4023.6 1095.5" stroke-width="7.9"/>
<path d="M3557 1145.5L4023 1144" stroke-width="8.4"/>
<path d="M3137.6 1035L3132.5 1662" stroke-width="7"/>
<path d="M3150.8 1035L3143.5 1662" stroke-width="7"/>
<path d="M3213 967L3205.4 1662" stroke-width="8.4"/>
<path d="M3255.7 967L3255.7 1067" stroke-width="6.5"/>
<path d="M3275.6 967L3275.6 1067" stroke-width="6.5"/>
<path d="M3294 967L3294 1067" stroke-width="6.5"/>
<path d="M3255 999.5L3294 999.5" stroke-width="5.5"/>
<path d="M3266 1067L3266 1082" stroke-width="6"/>
<path d="M3284 1067L3284 1082" stroke-width="6"/>
<path d="M3150 1083L3180 1083" stroke-width="5"/>
<path d="M3335 967L3335 1067" stroke-width="7.9"/>
<path d="M3379 967L3379 1067" stroke-width="7.9"/>
<path d="M3291.5 1067L3288 1662" stroke-width="7.9"/>
<path d="M3312.7 1089.8L3309 1662" stroke-width="6"/>
<path d="M3557 1088.4L3335.3 1105.7L3326 1332L3316 1590" stroke-width="7"/>
<path d="M3297 1182.6L3310 1182.6L3310 1200L3297 1200Z" stroke-width="5.5"/>
<path d="M3295 1384L3308 1384L3308 1404L3295 1404Z" stroke-width="5.5"/>
<path d="M3292 1580L3306 1580L3306 1600L3292 1600Z" stroke-width="5.5"/>
<path d="M3555.6 1088L3550 1662" stroke-width="6.5"/>
<path d="M3586 967L3581 1662" stroke-width="7.9"/>
<path d="M3596.7 967L3592 1662" stroke-width="6"/>
<path d="M3652 967L3645.5 1662" stroke-width="8.4"/>
<path d="M3756 967L3756 1067" stroke-width="7.9"/>
<path d="M3800 967L3800 1067" stroke-width="7.9"/>
<path d="M3880 967L3880 1075" stroke-width="7"/>
<path d="M3897.6 967L3897.6 1075" stroke-width="7"/>
<path d="M3880 1075C3879.3 1076.3 3878 1082.2 3876 1083C3874 1083.8 3869.3 1080.5 3868 1080" stroke-width="6"/>
<path d="M3897.6 1075C3898.7 1076.3 3901.6 1082.5 3904 1083C3906.4 1083.5 3910.7 1078.8 3912 1078" stroke-width="6"/>
<path d="M3946 960L3939.6 1662" stroke-width="7"/>
<path d="M3955 960L3948 1662" stroke-width="7"/>
<path d="M4003.7 960L3997 1662" stroke-width="6.5"/>
<path d="M4012.5 960L4008 1662" stroke-width="6.5"/>
<path d="M4039 682L4037 950L4030 1300L4025 1662L4021 1960L4023.8 2046" stroke-width="6.5"/>
<path d="M3559.5 1178.6L3570 1178.6L3570 1202.5L3559.5 1202.5Z" stroke-width="5.5"/>
<path d="M3318 1193L3440 1193" stroke-width="6"/>
<path d="M3446.8 1184L3481 1225" stroke-width="8.8"/>
<path d="M3502.5 1194L3555.6 1194" stroke-width="6"/>
<path d="M3454.7 1195L3446.5 1690" stroke-width="5.5"/>
<path d="M3305 1392.6L3462 1392.6" stroke-width="6"/>
<path d="M3313 1591.6L3462 1591.6" stroke-width="6"/>
<path d="M3441 1409.9L3461 1375.3" stroke-width="7"/>
<path d="M3438 1608.9L3458 1574.3" stroke-width="7"/>
<path d="M3437 1681.3L3457 1646.7" stroke-width="7"/>
<text transform="translate(3440 1345) rotate(-90)" font-size="58.7" textLength="116" lengthAdjust="spacingAndGlyphs" font-style="italic" stroke="#000" stroke-width="1.6">850</text>
<text transform="translate(3435.4 1534) rotate(-90)" font-size="55.6" textLength="119.3" lengthAdjust="spacingAndGlyphs" font-style="italic" stroke="#000" stroke-width="1.6">850</text>
<text transform="translate(3433 1636) rotate(-90)" font-size="58.7" textLength="84.2" lengthAdjust="spacingAndGlyphs" font-style="italic" stroke="#000" stroke-width="1.6">300</text>
<path d="M3143 1596L3292 1596" stroke-width="8.4"/>
<path d="M3550 1597L4014.8 1597" stroke-width="8.4"/>
<path d="M3112 1640L4020 1636" stroke-width="7"/>
<path d="M3130 1647L3900 1645" stroke-width="5.5"/>
<path d="M2752 1664.6L3112.6 1664.6" stroke-width="6"/>
<path d="M3112 1662L4037 1658" stroke-width="7"/>
<path d="M3117 1600L3130 1600L3130 1640L3117 1640Z" stroke-width="5.5"/>
<path d="M2895 947L2895 1062" stroke-width="6"/>
<path d="M2898 1089L2891 1695" stroke-width="6"/>
<path d="M2878 1022.5L3101.5 1022.5" stroke-width="6"/>
<path d="M2880 1085L3126 1085" stroke-width="6"/>
<path d="M2884.7 972.7L2905.3 943.3" stroke-width="7"/>
<path d="M2884.7 1037.2L2905.3 1007.8" stroke-width="7"/>
<path d="M2885.4 1103L2910.6 1067" stroke-width="7.9"/>
<text transform="translate(2867 1082) rotate(-90)" font-size="52.4" textLength="108" lengthAdjust="spacingAndGlyphs" font-style="italic" stroke="#000" stroke-width="1.6">300</text>
<path d="M2777.7 957L2767.6 1700" stroke-width="6"/>
<path d="M2767.4 972.7L2788 943.3" stroke-width="7"/>
<path d="M2757.7 1679.3L2778.3 1649.9" stroke-width="7"/>
<text transform="translate(2761 1470) rotate(-90)" font-size="77.2" textLength="199" lengthAdjust="spacingAndGlyphs" font-style="italic" stroke="#000" stroke-width="1.6">2985</text>
<text transform="translate(2884.8 1479) rotate(-90)" font-size="70.9" textLength="173" lengthAdjust="spacingAndGlyphs" font-style="italic" stroke="#000" stroke-width="1.6">2415</text>
<text transform="translate(2871.5 1715.5) rotate(-90)" font-size="64.9" textLength="68.5" lengthAdjust="spacingAndGlyphs" font-style="italic" stroke="#000" stroke-width="1.6">50</text>
<path d="M2902.5 1640L3112.6 1640" stroke-width="6"/>
<path d="M2881.7 1654.7L2902.3 1625.3" stroke-width="7"/>
<path d="M2880.7 1679.3L2901.3 1649.9" stroke-width="7"/>
<text transform="translate(2975.5 1323)" font-size="58.7" textLength="128.2" lengthAdjust="spacingAndGlyphs" font-style="italic" stroke="#000" stroke-width="1.6">С110</text>
<path d="M2977.7 1337L3201 1337" stroke-width="6.5"/>
<text transform="translate(2988.7 1461)" font-size="71.2" textLength="108.3" lengthAdjust="spacingAndGlyphs" font-style="italic" stroke="#000" stroke-width="1.6">Ст.9</text>
<path d="M2999.8 1474.4L3150 1474.4" stroke-width="6.5"/>
<path d="M3150 1474L3157 1461" stroke-width="6"/>
<text transform="translate(3585.8 872)" font-size="67.7" textLength="123.8" lengthAdjust="spacingAndGlyphs" font-style="italic" stroke="#000" stroke-width="1.6">С-5</text>
<path d="M3546 880L3731.7 880" stroke-width="6.5"/>
<path d="M3546 880C3541.6 894.9 3524.6 951.9 3519.4 969.4C3514.2 986.9 3513.6 979.5 3515 985C3516.4 990.5 3525.8 999.7 3528 1002.6" stroke-width="6"/>
<path d="M3846.7 690.8L4083 690.8" stroke-width="6"/>
<path d="M3893 662L3893 960" stroke-width="6"/>
<path d="M3885.2 702.4L3900.8 679.2" stroke-width="6.5"/>
<path d="M4031.2 702.4L4046.8 679.2" stroke-width="6.5"/>
<text transform="translate(3942 682)" font-size="68.4" textLength="110" lengthAdjust="spacingAndGlyphs" font-style="italic" stroke="#000" stroke-width="1.6">700</text>
<path d="M3984 770C3975.1 776.7 3941.8 798.2 3930.7 810C3919.6 821.8 3917.9 829.2 3917.5 841C3917.1 852.8 3928.1 869.9 3928.5 881C3928.9 892.1 3921.2 903.1 3919.7 907.5" stroke-width="6.5"/>
<circle cx="3891" cy="949.5" r="47" stroke-width="6.5"/>
<text transform="translate(4156 867.7)" font-size="43.3" textLength="71" lengthAdjust="spacingAndGlyphs" font-style="italic" stroke="#000" stroke-width="1.6">М7</text>
<path d="M4282 873.4L4116.5 873.4L3937 940.6" stroke-width="6"/>
<text transform="translate(4262 757) skewX(-14)" font-size="61.5" textLength="27" lengthAdjust="spacingAndGlyphs" font-style="italic" stroke="#000" stroke-width="1.6">1</text>
<text transform="translate(4125 821)" font-size="64.2" textLength="522" lengthAdjust="spacingAndGlyphs" font-style="italic" stroke="#000" stroke-width="2">1.030.9-2.1-00.1</text>
<text transform="translate(4101 1327.6)" font-size="65.1" textLength="110.6" lengthAdjust="spacingAndGlyphs" font-style="italic" stroke="#000" stroke-width="1.6">С-4</text>
<path d="M3915 1332L4289 1332" stroke-width="6.5"/>
<text transform="translate(4079 1470)" font-size="68.4" textLength="159" lengthAdjust="spacingAndGlyphs" font-style="italic" stroke="#000" stroke-width="1.6">Ст.5</text>
<path d="M3594.6 1477.5L4255.8 1477.5" stroke-width="6.5"/>
<path d="M4210 1500L4225 1497" stroke-width="5"/>
<circle cx="3541" cy="1396" r="44" stroke-width="6.5"/>
<path d="M3556 1385L3567 1385L3567 1402L3556 1402Z" stroke-width="5.5"/>
<path d="M3512 1393L3530 1393" stroke-width="6"/>
<path d="M3583.5 1434.6C3586.1 1442 3593.1 1463.5 3599 1479C3604.9 1494.5 3614.2 1508.3 3619 1527.5C3623.8 1546.7 3626.6 1568.2 3627.8 1594C3629 1619.8 3625.6 1656.2 3626 1682C3626.4 1707.8 3627.5 1732.2 3630 1748.6C3632.5 1765 3639.2 1775.2 3641 1780.5" stroke-width="6"/>
<path d="M3641 1780.5L4012.5 1780.5" stroke-width="6.5"/>
<text transform="translate(3771.5 1766)" font-size="48.9" textLength="33.2" lengthAdjust="spacingAndGlyphs" font-style="italic" stroke="#000" stroke-width="1.6">2</text>
<text transform="translate(3610 1830.5)" font-size="55.7" textLength="418" lengthAdjust="spacingAndGlyphs" font-style="italic" stroke="#000" stroke-width="2">1.030.9-2.1-00.2</text>
<text transform="translate(3716 1711)" font-size="61.5" textLength="126" lengthAdjust="spacingAndGlyphs" font-style="italic" stroke="#000" stroke-width="1.6">Ст.7</text>
<path d="M3687.5 1716.8L3875.5 1716.8" stroke-width="6.5"/>
<path d="M3687.5 1716.8C3685.6 1712.5 3678.6 1700.5 3676 1691C3673.4 1681.5 3672.7 1665.2 3672 1660" stroke-width="6"/>
<text transform="translate(2586 1882)" font-size="44.7" textLength="405" lengthAdjust="spacingAndGlyphs" stroke="#000" stroke-width="1.6">ДЕРЕВЯННЫЕ</text>
<path d="M2553 1892L3044 1892" stroke-width="6.5"/>
<text transform="translate(2586 1938)" font-size="32.1" textLength="223.6" lengthAdjust="spacingAndGlyphs" stroke="#000" stroke-width="2">ПРОБКИ</text>
<text transform="translate(2571 1990)" font-size="43.3" textLength="298" lengthAdjust="spacingAndGlyphs" font-style="italic" stroke="#000" stroke-width="1.6">40х40х80</text>
<path d="M3044 1890L3287 1245" stroke-width="6"/>
<path d="M3044 1890L3442 1664.6" stroke-width="6.5"/>
<path d="M3128 1665L3128 1766" stroke-width="6"/>
<path d="M3141 1665L3141 1766" stroke-width="6"/>
<path d="M3300.5 1665L3300.5 1800" stroke-width="6"/>
<path d="M3309 1665L3306 1921" stroke-width="6"/>
<text transform="translate(3159 1744)" font-size="36.7" textLength="57.5" lengthAdjust="spacingAndGlyphs" font-style="italic" stroke="#000" stroke-width="1.6">50</text>
<path d="M3120 1757.5L3158 1757.5" stroke-width="5.5"/>
<path d="M3128.4 1765.8L3139.6 1749.2" stroke-width="5.5"/>
<text transform="translate(3132.5 1804)" font-size="34.1" textLength="39.5" lengthAdjust="spacingAndGlyphs" font-style="italic" stroke="#000" stroke-width="1.6">10</text>
<path d="M3100 1815L3135 1815" stroke-width="5.5"/>
<path d="M3106.4 1823.3L3117.6 1806.7" stroke-width="5.5"/>
<text transform="translate(3318 1770.7)" font-size="46.2" textLength="53" lengthAdjust="spacingAndGlyphs" font-style="italic" stroke="#000" stroke-width="1.6">10</text>
<path d="M3283 1787.5L3344.8 1787.5" stroke-width="5.5"/>
<path d="M3298.4 1795.8L3309.6 1779.2" stroke-width="5.5"/>
<path d="M3552.6 1665L3550 1921" stroke-width="6"/>
<path d="M3561 1665L3561 1784" stroke-width="6"/>
<path d="M3574.7 1665L3574.7 1744" stroke-width="6"/>
<path d="M3588 1665L3588 1744" stroke-width="6"/>
<text transform="translate(3618 1722) rotate(-90)" font-size="36.3" textLength="32" lengthAdjust="spacingAndGlyphs" font-style="italic" stroke="#000" stroke-width="1.6">50</text>
<path d="M3933 1665L3933 1766" stroke-width="6"/>
<path d="M3948.4 1665L3948.4 1766" stroke-width="6"/>
<path d="M3990 1665L3990 1748.6" stroke-width="6"/>
<path d="M4003.7 1665L4003.7 1748.6" stroke-width="6"/>
<text transform="translate(3897.6 1722)" font-size="49.3" textLength="52.4" lengthAdjust="spacingAndGlyphs" font-style="italic" stroke="#000" stroke-width="1.6">50</text>
<text transform="translate(3970.5 1717.7)" font-size="43.3" textLength="37.5" lengthAdjust="spacingAndGlyphs" font-style="italic" stroke="#000" stroke-width="1.6">50</text>
<path d="M3918 1735L3965 1735" stroke-width="5.5"/>
<path d="M3975 1728L4015 1728" stroke-width="5.5"/>
<text transform="translate(4043.5 1753)" font-size="55.9" textLength="42" lengthAdjust="spacingAndGlyphs" font-style="italic" stroke="#000" stroke-width="1.6">10</text>
<path d="M3997 1764L4048 1764" stroke-width="5.5"/>
<path d="M4017.4 1772.3L4028.6 1755.7" stroke-width="5.5"/>
<text transform="translate(3501.7 1773)" font-size="53.1" textLength="44.3" lengthAdjust="spacingAndGlyphs" font-style="italic" stroke="#000" stroke-width="1.6">10</text>
<path d="M3541.5 1784L3588 1784" stroke-width="5.5"/>
<path d="M3546.4 1792.3L3557.6 1775.7" stroke-width="5.5"/>
<path d="M3091 1920L3579 1919" stroke-width="6.5"/>
<path d="M3103.2 1931.6L3118.8 1908.4" stroke-width="6.5"/>
<path d="M3297.7 1931.6L3313.3 1908.4" stroke-width="6.5"/>
<path d="M3543.2 1930.6L3558.8 1907.4" stroke-width="6.5"/>
<text transform="translate(3150 1910)" font-size="58.7" textLength="133" lengthAdjust="spacingAndGlyphs" font-style="italic" stroke="#000" stroke-width="1.6">810</text>
<text transform="translate(3380 1903)" font-size="55" textLength="155" lengthAdjust="spacingAndGlyphs" font-style="italic" stroke="#000" stroke-width="1.6">1020</text>
<path d="M3091 2021L4067 2019.5" stroke-width="6.5"/>
<path d="M3101.7 2032.6L3117.3 2009.4" stroke-width="6.5"/>
<path d="M4014.2 2031.6L4029.8 2008.4" stroke-width="6.5"/>
<text transform="translate(3468 2014)" font-size="71.6" textLength="167" lengthAdjust="spacingAndGlyphs" font-style="italic" stroke="#000" stroke-width="1.6">3780</text>
<text transform="translate(1040 2200.5) skewX(-13)" font-size="125.7" textLength="185" lengthAdjust="spacingAndGlyphs" font-style="italic" stroke="#000" stroke-width="0.6">1 - 1</text>
<path d="M950 2213.5L1361 2212" stroke-width="10.8"/>
<text transform="translate(1093.8 2293)" font-size="60.1" textLength="66.2" lengthAdjust="spacingAndGlyphs" font-style="italic" stroke="#000" stroke-width="1.6">40</text>
<text transform="translate(1192 2293)" font-size="51.7" textLength="55" lengthAdjust="spacingAndGlyphs" font-style="italic" stroke="#000" stroke-width="1.6">40</text>
<path d="M1096 2301.7L1198.4 2301.7" stroke-width="6"/>
<path d="M1130 2290L1128 2434" stroke-width="6"/>
<path d="M1147 2290L1149 2434" stroke-width="6"/>
<path d="M1164 2290L1164 2434" stroke-width="6"/>
<path d="M1124.4 2310L1135.6 2293.4" stroke-width="6"/>
<path d="M1141.4 2310L1152.6 2293.4" stroke-width="6"/>
<path d="M1158.4 2310L1169.6 2293.4" stroke-width="6"/>
<text transform="translate(683 2322)" font-size="57.3" textLength="43" lengthAdjust="spacingAndGlyphs" font-style="italic" stroke="#000" stroke-width="2">3</text>
<path d="M451 2334L991 2334" stroke-width="6.5"/>
<text transform="translate(507 2387)" font-size="60.8" textLength="491" lengthAdjust="spacingAndGlyphs" font-style="italic" stroke="#000" stroke-width="2">1.030 9-2.1-003</text>
<path d="M991 2338C997.8 2340.2 1017 2346.5 1032 2351C1047 2355.5 1068.8 2358.5 1081 2365C1093.2 2371.5 1100.7 2381.8 1105 2390C1109.3 2398.2 1106.7 2410 1107 2414" stroke-width="6.5"/>
<path d="M780 2434L1176.5 2433" stroke-width="6"/>
<path d="M930 2443.5L1125 2443" stroke-width="6"/>
<path d="M838 2419.5L830.5 3199" stroke-width="6"/>
<path d="M830 2447.9L846 2420.1" stroke-width="7"/>
<path d="M825 3154.4L841 3126.6" stroke-width="7"/>
<text transform="translate(823 2852) rotate(-90)" font-size="71.2" textLength="178" lengthAdjust="spacingAndGlyphs" font-style="italic" stroke="#000" stroke-width="1.6">2985</text>
<path d="M927 2410L927 2509.5" stroke-width="6"/>
<text transform="translate(884 2502) rotate(-68)" font-size="55.9" textLength="70" lengthAdjust="spacingAndGlyphs" font-style="italic" stroke="#000" stroke-width="1.6">10</text>
<rect x="1081.6" y="2407.3" width="131.4" height="223.7" rx="65" ry="65" stroke-width="6.5"/>
<path d="M1125.4 2434L1122.4 2700L1122.4 3367" stroke-width="7"/>
<path d="M1149.7 2434L1151.6 2700L1146.8 3100L1146.8 3290" stroke-width="6"/>
<path d="M1164.3 2434L1163.8 2700L1159 3100L1159 3367" stroke-width="7"/>
<path d="M1136 2455L1138 2640" stroke-width="5.5" stroke-dasharray="50 14 8 14"/>
<path d="M1143 2470L1144 2620" stroke-width="5.5" stroke-dasharray="30 12"/>
<path d="M1144 2574L1137 2584L1144 2592" stroke-width="7.9"/>
<path d="M1144 2718L1137 2728L1144 2736" stroke-width="7.9"/>
<path d="M1144 2786L1137 2796L1144 2804" stroke-width="7.9"/>
<path d="M1144 2876L1137 2886L1144 2894" stroke-width="7.9"/>
<path d="M1144 2946.5L1137 2956.5L1144 2964.5" stroke-width="7.9"/>
<path d="M1144 3030L1137 3040L1144 3048" stroke-width="7.9"/>
<path d="M1142 3075L1142 3098" stroke-width="6"/>
<text transform="translate(928 2674)" font-size="60.8" textLength="104.4" lengthAdjust="spacingAndGlyphs" font-style="italic" stroke="#000" stroke-width="1.6">С-3</text>
<text transform="translate(925 2735)" font-size="47.5" textLength="97.7" lengthAdjust="spacingAndGlyphs" font-style="italic" stroke="#000" stroke-width="1.6">С-5</text>
<path d="M935 2684L1059 2684L1125 2535.7" stroke-width="6.5"/>
<text transform="translate(1283 2878.7)" font-size="61" textLength="163" lengthAdjust="spacingAndGlyphs" font-style="italic" stroke="#000" stroke-width="1.6">С-24,</text>
<text transform="translate(1275.7 2944)" font-size="60.8" textLength="165.3" lengthAdjust="spacingAndGlyphs" font-style="italic" stroke="#000" stroke-width="1.6">С-26</text>
<path d="M1154 2883.5L1510 2883.5" stroke-width="6.5"/>
<path d="M920.5 3131L1171 3131" stroke-width="6"/>
<path d="M920.5 3140.5L1125 3140.5" stroke-width="6"/>
<path d="M808.6 3140.5L900 3140.5" stroke-width="6"/>
<path d="M919.6 3096.8L919.6 3203.8" stroke-width="6"/>
<text transform="translate(876 3206) rotate(-68)" font-size="55.9" textLength="70" lengthAdjust="spacingAndGlyphs" font-style="italic" stroke="#000" stroke-width="1.6">10</text>
<text transform="translate(1056.8 3257) rotate(-12)" font-size="79.6" textLength="58.2" lengthAdjust="spacingAndGlyphs" font-style="italic" stroke="#000" stroke-width="1.6">40</text>
<text transform="translate(1168.7 3255) rotate(-12)" font-size="71.2" textLength="51" lengthAdjust="spacingAndGlyphs" font-style="italic" stroke="#000" stroke-width="1.6">40</text>
<path d="M1105 3281.6L1183 3281.6" stroke-width="6"/>
<path d="M1116.8 3289.9L1128 3273.3" stroke-width="6"/>
<path d="M1141.2 3289.9L1152.4 3273.3" stroke-width="6"/>
<path d="M1153.4 3289.9L1164.6 3273.3" stroke-width="6"/>
<text transform="translate(1073.8 3345)" font-size="54.5" textLength="51.2" lengthAdjust="spacingAndGlyphs" font-style="italic" stroke="#000" stroke-width="1.6">80</text>
<path d="M1059 3357L1193 3357" stroke-width="6"/>
<path d="M1116.8 3365.3L1128 3348.7" stroke-width="6"/>
<path d="M1153.4 3365.3L1164.6 3348.7" stroke-width="6"/>
<circle cx="2115.4" cy="2066.8" r="75.4" stroke-width="7.9"/>
<text transform="translate(2079 2103) skewX(-8)" font-size="110.6" textLength="58" lengthAdjust="spacingAndGlyphs" stroke="#000" stroke-width="0.3" style="font-family:'Liberation Mono',serif">I</text>
<text transform="translate(2035 2273.5)" font-size="63.5" textLength="121.8" lengthAdjust="spacingAndGlyphs" font-style="italic" stroke="#000" stroke-width="1.6">350</text>
<text transform="translate(2200.6 2276)" font-size="61.5" textLength="192.1" lengthAdjust="spacingAndGlyphs" font-style="italic" stroke="#000" stroke-width="1.6">НМН-6</text>
<path d="M1947.6 2284.7L2173.8 2284.7" stroke-width="6"/>
<path d="M2193 2284.7L2419.5 2284.7" stroke-width="6.5"/>
<path d="M2205.4 2284.7L2132.4 2378" stroke-width="6"/>
<path d="M1974 2259L1974 2514" stroke-width="6"/>
<path d="M2131.5 2268.7L2131.5 2378" stroke-width="6"/>
<path d="M1966.2 2296.3L1981.8 2273.1" stroke-width="6.5"/>
<path d="M2123.7 2296.3L2139.3 2273.1" stroke-width="6.5"/>
<text transform="translate(1641 2514) rotate(-90)" font-size="61.5" textLength="124" lengthAdjust="spacingAndGlyphs" font-style="italic" stroke="#000" stroke-width="1.6">350</text>
<path d="M1663 2370.8L1663 2563" stroke-width="6"/>
<path d="M1648 2391.7L2015.7 2391.7" stroke-width="6"/>
<path d="M1604.6 2541L1957 2541" stroke-width="6"/>
<path d="M1962 2536L2032.7 2536" stroke-width="6.5"/>
<path d="M1655 2405.6L1671 2377.8" stroke-width="7"/>
<path d="M1655 2554.9L1671 2527.1" stroke-width="7"/>
<text transform="translate(1738 2504.6)" font-size="80.4" textLength="34" lengthAdjust="spacingAndGlyphs" font-style="italic" stroke="#000" stroke-width="2">2</text>
<path d="M1806.5 2409.7L1806.5 2514" stroke-width="6"/>
<path d="M1775 2515L1874.6 2515" stroke-width="7"/>
<path d="M1798 2470L1815 2470L1806.5 2512Z" style="fill:#000" stroke-width="2"/>
<path d="M2443.8 2397.6L2443.8 2514" stroke-width="6"/>
<path d="M2346.5 2513L2470.6 2513" stroke-width="7"/>
<path d="M2436 2470L2452 2470L2443.8 2510Z" style="fill:#000" stroke-width="2"/>
<text transform="translate(2473 2492.5)" font-size="69.1" textLength="34" lengthAdjust="spacingAndGlyphs" font-style="italic" stroke="#000" stroke-width="2">2</text>
<path d="M2035 2387.8L2254 2387.8" stroke-width="7"/>
<path d="M2254 2380L2254 2499.7" stroke-width="7"/>
<path d="M2254 2499.7C2251.3 2500.8 2243 2503.3 2238 2506C2233 2508.7 2225 2512.3 2224 2516C2223 2519.7 2227.7 2525 2232 2528C2236.3 2531 2246.3 2531.8 2250 2534C2253.7 2536.2 2253.3 2539.8 2254 2541" stroke-width="7"/>
<path d="M2254 2541L2250 2655" stroke-width="7"/>
<path d="M2035 2387.8L2139.7 2387.8L2139.7 2546L2030 2546L2035 2387.8" stroke-width="7.9"/>
<path d="M2043 2392L2040 2542" stroke-width="5.5"/>
<path d="M2051 2395L2047 2540" stroke-width="5.5"/>
<path d="M2064 2426.7L2127.6 2409.7L2127.6 2536L2049.7 2536L2064 2426.7" stroke-width="6.5"/>
<path d="M2050 2398L2132 2398" stroke-width="5"/>
<path d="M2137 2400L2137 2540" stroke-width="6" stroke-dasharray="12 8"/>
<path d="M2145 2404L2145 2540" stroke-width="5.5" stroke-dasharray="7 10"/>
<path d="M2164 2412L2205.4 2412" stroke-width="7"/>
<path d="M2164 2470.5L2205.4 2470.5" stroke-width="7"/>
<path d="M2164 2521.6L2205.4 2521.6" stroke-width="7"/>
<path d="M2062 2553L2062 2602" stroke-width="7.4" stroke-dasharray="16 9"/>
<path d="M2113 2553L2113 2602" stroke-width="7.4" stroke-dasharray="16 9"/>
<path d="M2060 2553L2115 2553" stroke-width="5.5"/>
<path d="M2086 2610L2086 2622" stroke-width="5"/>
<path d="M1969.5 2536L1966 2679.7" stroke-width="7"/>
<path d="M1933 2637L2088 2637" stroke-width="7"/>
<path d="M2088 2637C2088.7 2639.5 2089.9 2648.2 2092 2652C2094.1 2655.8 2097.8 2660.3 2100.8 2660C2103.8 2659.7 2107.8 2653.8 2110 2650C2112.2 2646.2 2113.3 2639.2 2114 2637" stroke-width="7"/>
<path d="M2114 2637L2273.5 2637" stroke-width="7"/>
<text transform="translate(2005 2791) skewX(-13)" font-size="105.2" textLength="200" lengthAdjust="spacingAndGlyphs" font-style="italic" stroke="#000" stroke-width="0.6">2 - 2</text>
<path d="M1877 2807.5L2278.7 2806" stroke-width="10.8"/>
<text transform="translate(1994 2954)" font-size="67" textLength="114" lengthAdjust="spacingAndGlyphs" font-style="italic" stroke="#000" stroke-width="1.6">150</text>
<path d="M2001 2971L2115.7 2971" stroke-width="6"/>
<path d="M2028 2954L2028 3063.5" stroke-width="6"/>
<path d="M2108.4 2951.6L2108.4 3078" stroke-width="6"/>
<path d="M2020.2 2982.6L2035.8 2959.4" stroke-width="6.5"/>
<path d="M2100.6 2982.6L2116.2 2959.4" stroke-width="6.5"/>
<text transform="translate(2237 2961)" font-size="64.2" textLength="216.8" lengthAdjust="spacingAndGlyphs" font-style="italic" stroke="#000" stroke-width="1.6">НМН-35</text>
<path d="M2453.8 2971L2196 2971L2128 3080.5" stroke-width="6.5"/>
<path d="M1763 3082L2247 3082" stroke-width="7"/>
<path d="M1763 3142L2247 3142" stroke-width="7"/>
<path d="M1934.7 3082L1934.7 3142" stroke-width="6.5"/>
<path d="M2020.8 3082L2020.8 3142" stroke-width="7.9"/>
<path d="M2108.4 3078L2106 3328" stroke-width="7"/>
<path d="M2244.6 3054L2244.6 3088" stroke-width="6.5"/>
<path d="M2244.6 3088C2246.5 3089.3 2257.1 3093.3 2256 3096C2254.9 3098.7 2242 3101.3 2238 3104C2234 3106.7 2230.9 3109.8 2232 3112C2233.1 3114.2 2242.5 3116.2 2244.6 3117" stroke-width="6.5"/>
<path d="M2244.6 3117L2244.6 3163" stroke-width="6.5"/>
<path d="M1979.5 3084L1984 3095L2005 3095L2013.5 3086" stroke-width="6.5"/>
<path d="M2013.5 3085L2013.5 3125" stroke-width="6.5"/>
<path d="M2033 3090L2086 3090" stroke-width="6" stroke-dasharray="14 10"/>
<path d="M2033 3126.8L2086 3126.8" stroke-width="6" stroke-dasharray="14 10"/>
<path d="M2108 3082L2118 3082L2118 3119.5L2108 3119.5" stroke-width="6"/>
<path d="M2125.4 3092.7L2227.6 3119.5" stroke-width="6.5"/>
<path d="M2118 3086L2240 3086" stroke-width="5.5"/>
<path d="M2125 3092L2160 3086" stroke-width="5.5"/>
<text transform="translate(1746 3141) rotate(-90)" font-size="68.4" textLength="80" lengthAdjust="spacingAndGlyphs" font-style="italic" stroke="#000" stroke-width="1.6">80</text>
<path d="M1759.6 3046.5L1759.6 3151" stroke-width="6"/>
<path d="M1751.6 3095.9L1767.6 3068.1" stroke-width="7"/>
<path d="M1751.6 3155.9L1767.6 3128.1" stroke-width="7"/>
<path d="M1933 3170.5L1933 3328.7" stroke-width="6"/>
<path d="M1911 3312.6L2123 3312.6" stroke-width="6"/>
<path d="M1925.2 3324.2L1940.8 3301" stroke-width="6.5"/>
<path d="M2098.2 3324.2L2113.8 3301" stroke-width="6.5"/>
<text transform="translate(1986.8 3304)" font-size="60.8" textLength="107" lengthAdjust="spacingAndGlyphs" font-style="italic" stroke="#000" stroke-width="1.6">350</text>
</svg></body></html>
